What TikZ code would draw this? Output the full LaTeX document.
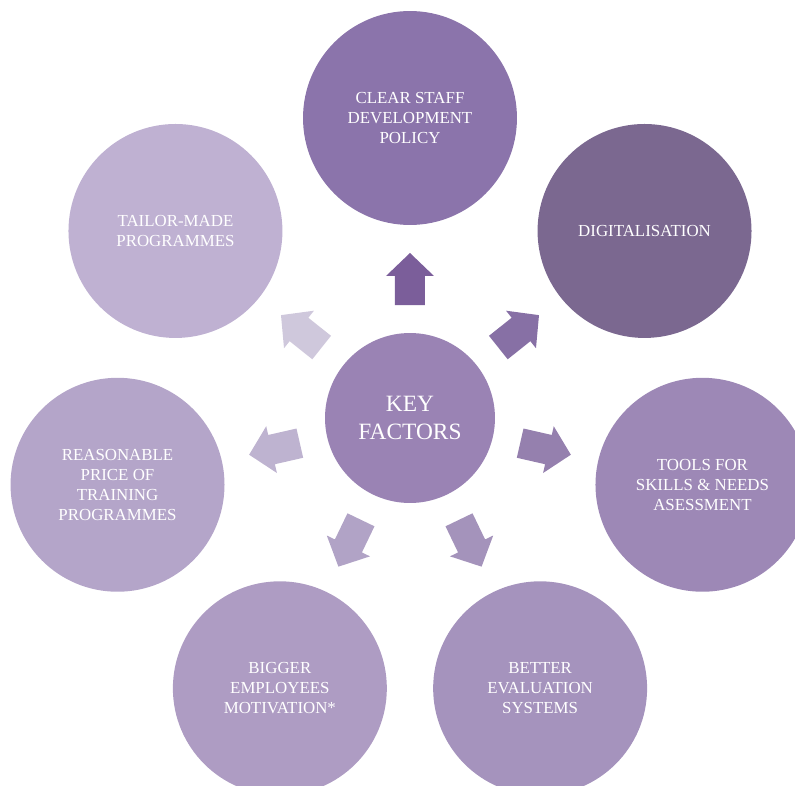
\documentclass[tikz,border=0pt]{standalone}
\usepackage{fontspec}
\setmainfont{Liberation Serif}
\definecolor{keyc}{HTML}{9A83B4}
\definecolor{c0}{HTML}{8B74AB}
\definecolor{c1}{HTML}{7B6890}
\definecolor{c2}{HTML}{9D88B6}
\definecolor{c3}{HTML}{A593BD}
\definecolor{c4}{HTML}{AE9CC3}
\definecolor{c5}{HTML}{B4A5C9}
\definecolor{c6}{HTML}{BFB1D2}
\definecolor{a0}{HTML}{7B5E9A}
\definecolor{a1}{HTML}{8770A5}
\definecolor{a2}{HTML}{9580AE}
\definecolor{a3}{HTML}{A493BB}
\definecolor{a4}{HTML}{B1A3C6}
\definecolor{a5}{HTML}{BEB3D0}
\definecolor{a6}{HTML}{CFC8DC}
\begin{document}
\begin{tikzpicture}[x=0.02cm,y=0.02cm,
  factor/.style={circle,minimum size=4.28cm,inner sep=0pt,text=white,align=center,
    font=\fontsize{9.6}{11.3}\selectfont}]
\useasboundingbox (-410,-367) rectangle (385,418);
\node[circle,fill=keyc,minimum size=3.4cm,text=white,align=center,
  font=\fontsize{13.3}{15.8}\selectfont] (key) at (0,0) {KEY\\FACTORS};
\def\kf#1#2#3#4#5{
\node[factor,fill=#3] (#1) at (#2:300) {#5};
\fill[#4,rotate=#2] (113,-15) -- (142,-15) -- (142,-24) -- (165,0) -- (142,24) -- (142,15) -- (113,15) -- cycle;
}
\kf{policy}{90}{c0}{a0}{CLEAR STAFF\\DEVELOPMENT\\POLICY}
\kf{digital}{38.57}{c1}{a1}{DIGITALISATION}
\kf{tools}{-12.86}{c2}{a2}{TOOLS FOR\\SKILLS \& NEEDS\\ASESSMENT}
\kf{evaluation}{-64.29}{c3}{a3}{BETTER\\EVALUATION\\SYSTEMS}
\kf{motivation}{-115.71}{c4}{a4}{BIGGER\\EMPLOYEES\\MOTIVATION*}
\kf{price}{-167.14}{c5}{a5}{REASONABLE\\PRICE OF\\TRAINING\\PROGRAMMES}
\kf{tailor}{141.43}{c6}{a6}{TAILOR-MADE\\PROGRAMMES}
\end{tikzpicture}
\end{document}
